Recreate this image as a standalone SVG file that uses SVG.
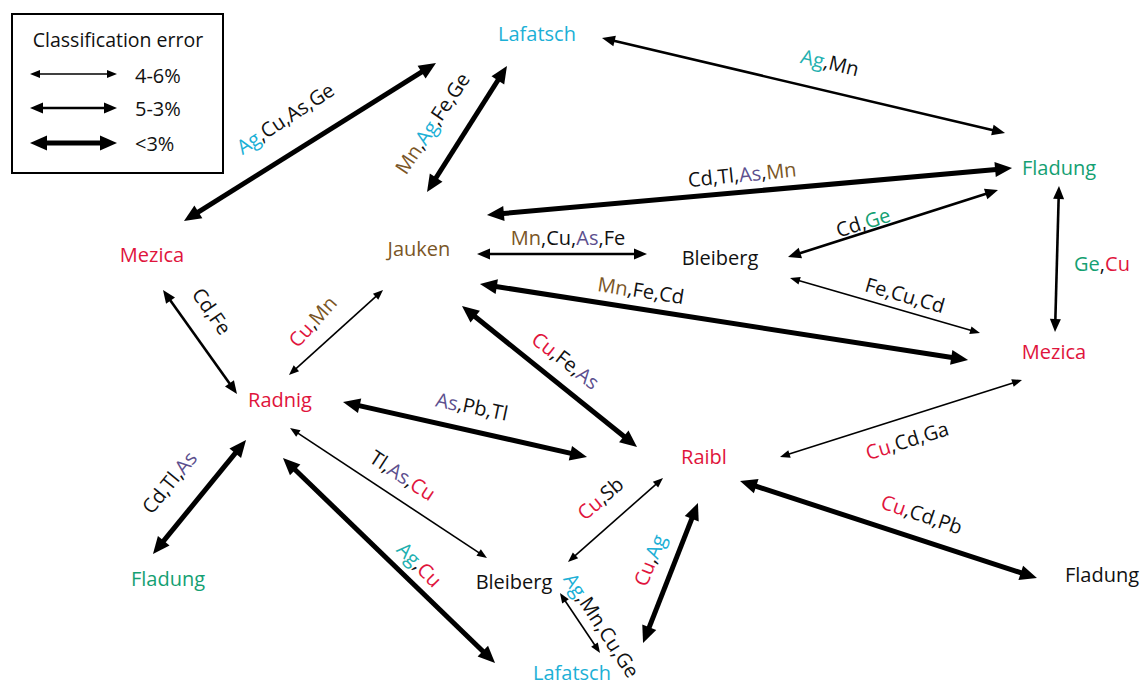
<svg xmlns="http://www.w3.org/2000/svg" width="1141" height="684" viewBox="0 0 1141 684">
<style>
text{font-family:"Open Sans","Noto Sans","Liberation Sans",sans-serif;font-size:20px;fill:#111}
.lbl{dominant-baseline:central;text-anchor:middle}
.node{text-anchor:middle}
.cy{fill:#1cb0d6}.gr{fill:#14a072}.rd{fill:#e0143c}.br{fill:#7a5626}.pu{fill:#5c4f8e}.tl{fill:#1fb0b0}
.thin{stroke:#000;stroke-width:1.6;fill:none;marker-start:url(#aThin);marker-end:url(#aThin)}
.med{stroke:#000;stroke-width:2.6;fill:none;marker-start:url(#aMed);marker-end:url(#aMed)}
.thick{stroke:#000;stroke-width:5;fill:none;marker-start:url(#aThick);marker-end:url(#aThick)}
</style>
<defs>
<marker id="aThin" markerWidth="10" markerHeight="8" refX="2" refY="4" orient="auto-start-reverse" markerUnits="userSpaceOnUse" overflow="visible"><path d="M0,0 L10,4 L0,8 z" fill="#000"/></marker>
<marker id="aMed" markerWidth="13" markerHeight="11" refX="3" refY="5.5" orient="auto-start-reverse" markerUnits="userSpaceOnUse" overflow="visible"><path d="M0,0 L13,5.5 L0,11 z" fill="#000"/></marker>
<marker id="aThick" markerWidth="17" markerHeight="15" refX="4" refY="7.5" orient="auto-start-reverse" markerUnits="userSpaceOnUse" overflow="visible"><path d="M0,0 L17,7.5 L0,15 z" fill="#000"/></marker>
</defs>
<rect width="1141" height="684" fill="#fff"/>

<g id="legend">
<rect x="12" y="14" width="211" height="159" fill="#fff" stroke="#000" stroke-width="2"/>
<text x="118" y="39" class="lbl" style="font-size:19.5px">Classification error</text>
<line class="thin" x1="38" y1="74" x2="109" y2="74"/>
<line class="med" x1="40" y1="108" x2="107" y2="108"/>
<line class="thick" x1="43" y1="143" x2="104" y2="143"/>
<text x="135" y="75" style="dominant-baseline:central">4-6%</text>
<text x="135" y="108" style="dominant-baseline:central">5-3%</text>
<text x="135" y="143" style="dominant-baseline:central">&lt;3%</text>
</g>

<g id="connectors">
<line class="thick" x1="195" y1="214.1" x2="425" y2="69.9"/>
<line class="thick" x1="434" y1="181" x2="500" y2="77"/>
<line class="med" x1="611.7" y1="40.3" x2="995.3" y2="130.7"/>
<line class="thick" x1="499.9" y1="213.8" x2="999.1" y2="169.2"/>
<line class="med" x1="797.5" y1="254" x2="988.5" y2="193"/>
<line class="med" x1="487" y1="254" x2="637" y2="254"/>
<line class="thick" x1="492.8" y1="286" x2="955.2" y2="358"/>
<line class="thin" x1="797.7" y1="280.2" x2="972.3" y2="330.8"/>
<line class="med" x1="1058.7" y1="196" x2="1055.3" y2="322"/>
<line class="med" x1="168.8" y1="298.2" x2="231.2" y2="385.8"/>
<line class="thin" x1="294.9" y1="369.6" x2="377.1" y2="295.4"/>
<line class="thick" x1="472.1" y1="314.2" x2="626.9" y2="438.8"/>
<line class="thick" x1="355.7" y1="404.9" x2="574.3" y2="454.1"/>
<line class="thin" x1="296.7" y1="432.4" x2="480.3" y2="553.6"/>
<line class="thick" x1="237.8" y1="450.1" x2="161.2" y2="543.9"/>
<line class="thick" x1="292.3" y1="467" x2="485.7" y2="654"/>
<line class="thin" x1="657" y1="483.3" x2="574" y2="556.7"/>
<line class="thick" x1="693.2" y1="515.1" x2="647.8" y2="630.9"/>
<line class="thin" x1="564.4" y1="599.7" x2="595.6" y2="646.3"/>
<line class="thin" x1="787.6" y1="454.6" x2="1014.4" y2="382.4"/>
<line class="thick" x1="752.4" y1="485" x2="1024.6" y2="574"/>
</g>

<g id="edge-labels">
<text class="lbl" transform="translate(285,118) rotate(-33)"><tspan class="cy">Ag</tspan>,Cu,As,Ge</text>
<text class="lbl" transform="translate(432,123) rotate(-56)"><tspan class="br">Mn</tspan>,<tspan class="cy">Ag</tspan>,Fe,Ge</text>
<text class="lbl" transform="translate(830,62) rotate(14)"><tspan class="tl">Ag</tspan>,Mn</text>
<text class="lbl" transform="translate(742,174) rotate(-6)">Cd,Tl,<tspan class="pu">As</tspan>,<tspan class="br">Mn</tspan></text>
<text class="lbl" transform="translate(863,222) rotate(-18)">Cd,<tspan class="gr">Ge</tspan></text>
<text class="lbl" transform="translate(568,237)"><tspan class="br">Mn</tspan>,Cu,<tspan class="pu">As</tspan>,Fe</text>
<text class="lbl" transform="translate(641,290) rotate(9)"><tspan class="br">Mn</tspan>,Fe,Cd</text>
<text class="lbl" transform="translate(905,295) rotate(16)">Fe,Cu,Cd</text>
<text class="lbl" transform="translate(1102,263)"><tspan class="gr">Ge</tspan>,<tspan class="rd">Cu</tspan></text>
<text class="lbl" transform="translate(212,311) rotate(55)">Cd,Fe</text>
<text class="lbl" transform="translate(312,321) rotate(-48)"><tspan class="rd">Cu</tspan>,<tspan class="br">Mn</tspan></text>
<text class="lbl" transform="translate(566,360) rotate(38)"><tspan class="rd">Cu</tspan>,Fe,<tspan class="pu">As</tspan></text>
<text class="lbl" transform="translate(472,406) rotate(12)"><tspan class="pu">As</tspan>,Pb,Tl</text>
<text class="lbl" transform="translate(403,475) rotate(33)">Tl,<tspan class="pu">As</tspan>,<tspan class="rd">Cu</tspan></text>
<text class="lbl" transform="translate(169,482) rotate(-51)">Cd,Tl,<tspan class="pu">As</tspan></text>
<text class="lbl" transform="translate(420,564) rotate(45)"><tspan class="tl">Ag</tspan>,<tspan class="rd">Cu</tspan></text>
<text class="lbl" transform="translate(600,498) rotate(-40)"><tspan class="rd">Cu</tspan>,Sb</text>
<text class="lbl" transform="translate(649,560) rotate(-68)"><tspan class="rd">Cu</tspan>,<tspan class="cy">Ag</tspan></text>
<text class="lbl" transform="translate(602,625) rotate(57)"><tspan class="cy">Ag</tspan>,Mn,Cu,Ge</text>
<text class="lbl" transform="translate(907,440) rotate(-17)"><tspan class="rd">Cu</tspan>,Cd,Ga</text>
<text class="lbl" transform="translate(922,514) rotate(19)"><tspan class="rd">Cu</tspan>,Cd,Pb</text>
</g>

<g id="n-lafatsch-top"><text class="node cy" x="537" y="41">Lafatsch</text></g>
<g id="n-fladung-right"><text class="node gr" x="1059" y="175">Fladung</text></g>
<g id="n-mezica-left"><text class="node rd" x="152" y="262">Mezica</text></g>
<g id="n-jauken"><text class="node br" x="419" y="256">Jauken</text></g>
<g id="n-bleiberg-mid"><text class="node" x="720" y="265">Bleiberg</text></g>
<g id="n-mezica-right"><text class="node rd" x="1054" y="359">Mezica</text></g>
<g id="n-radnig"><text class="node rd" x="280" y="407">Radnig</text></g>
<g id="n-raibl"><text class="node rd" x="704" y="464">Raibl</text></g>
<g id="n-fladung-left"><text class="node gr" x="168" y="586">Fladung</text></g>
<g id="n-bleiberg-bottom"><text class="node" x="514" y="589">Bleiberg</text></g>
<g id="n-lafatsch-bottom"><text class="node cy" x="572" y="680">Lafatsch</text></g>
<g id="n-fladung-bottom-right"><text class="node" x="1102" y="582">Fladung</text></g>
</svg>
